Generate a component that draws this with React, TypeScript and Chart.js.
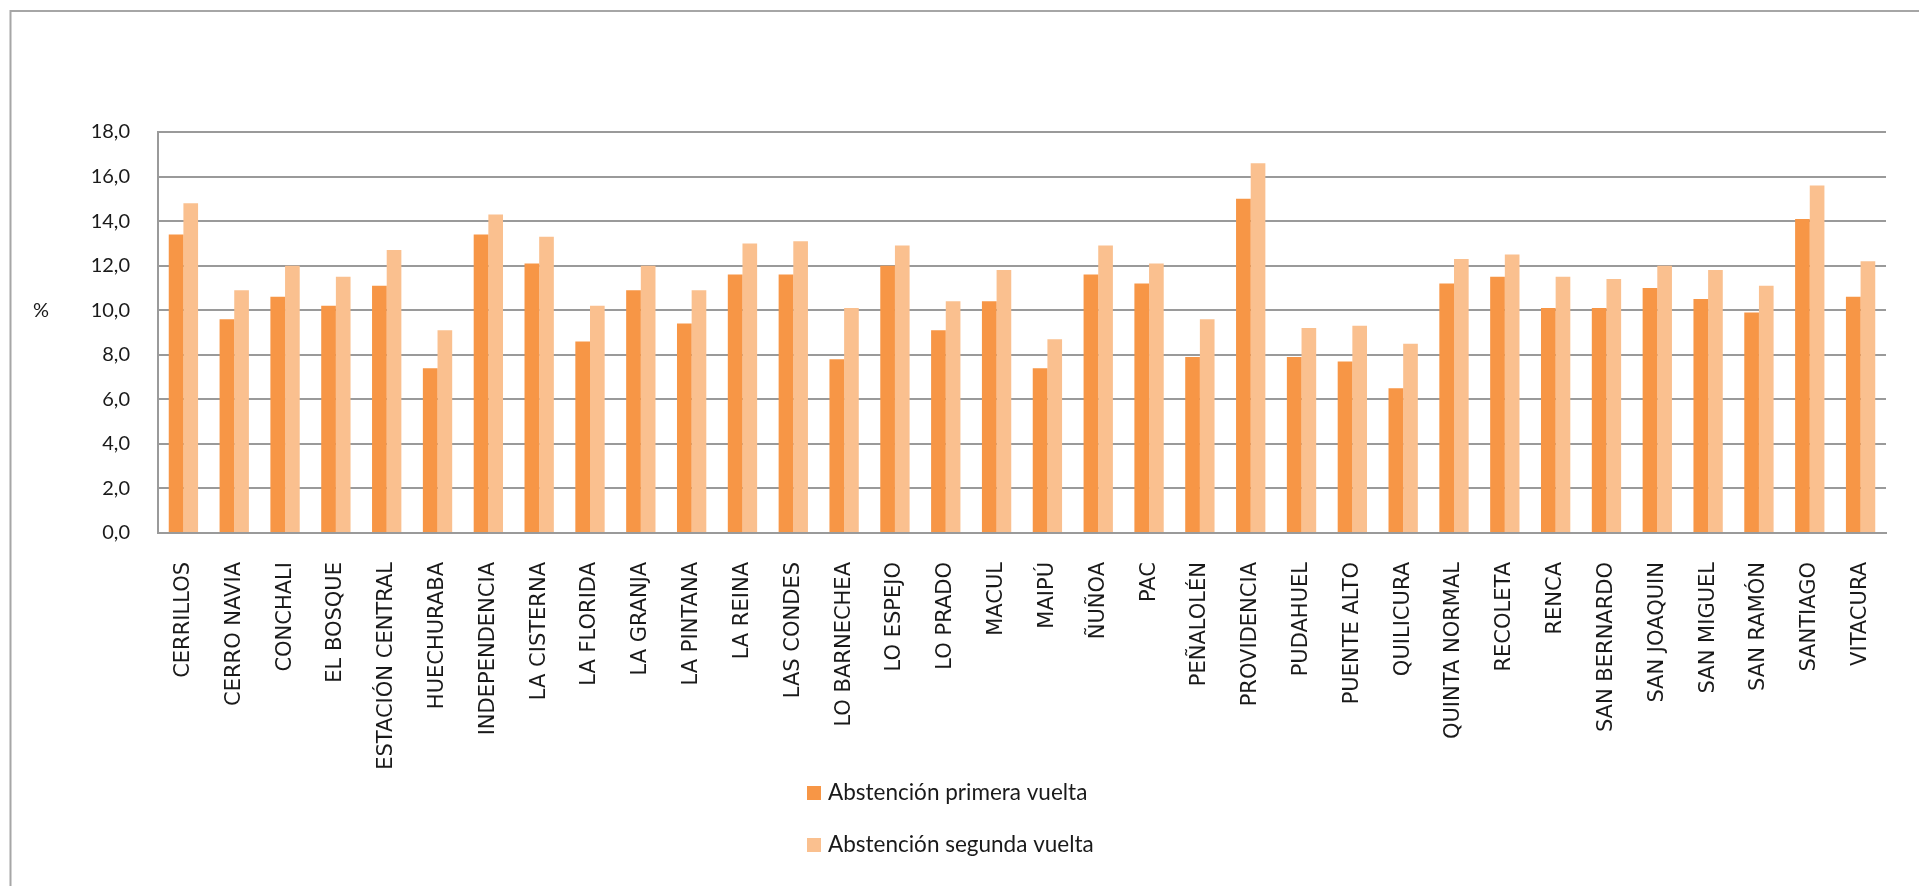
import React, { useEffect, useRef } from "react";
import { Chart, registerables } from "chart.js";

Chart.register(...registerables);

// Comunas of the Región Metropolitana
const comunas: string[] = [
  "CERRILLOS", "CERRO NAVIA", "CONCHALI", "EL BOSQUE", "ESTACIÓN CENTRAL",
  "HUECHURABA", "INDEPENDENCIA", "LA CISTERNA", "LA FLORIDA", "LA GRANJA",
  "LA PINTANA", "LA REINA", "LAS CONDES", "LO BARNECHEA", "LO ESPEJO",
  "LO PRADO", "MACUL", "MAIPÚ", "ÑUÑOA", "PAC", "PEÑALOLÉN", "PROVIDENCIA",
  "PUDAHUEL", "PUENTE ALTO", "QUILICURA", "QUINTA NORMAL", "RECOLETA",
  "RENCA", "SAN BERNARDO", "SAN JOAQUIN", "SAN MIGUEL", "SAN RAMÓN",
  "SANTIAGO", "VITACURA",
];

// Abstención (%) en primera vuelta
const primeraVuelta: number[] = [
  13.4, 9.6, 10.6, 10.2, 11.1, 7.4, 13.4, 12.1, 8.6, 10.9,
  9.4, 11.6, 11.6, 7.8, 12.0, 9.1, 10.4, 7.4, 11.6, 11.2,
  7.9, 15.0, 7.9, 7.7, 6.5, 11.2, 11.5, 10.1, 10.1, 11.0,
  10.5, 9.9, 14.1, 10.6,
];

// Abstención (%) en segunda vuelta
const segundaVuelta: number[] = [
  14.8, 10.9, 12.0, 11.5, 12.7, 9.1, 14.3, 13.3, 10.2, 12.0,
  10.9, 13.0, 13.1, 10.1, 12.9, 10.4, 11.8, 8.7, 12.9, 12.1,
  9.6, 16.6, 9.2, 9.3, 8.5, 12.3, 12.5, 11.5, 11.4, 12.0,
  11.8, 11.1, 15.6, 12.2,
];

const seriesNames: string[] = ["Abstención primera vuelta", "Abstención segunda vuelta"];
const seriesColors: string[] = ["#F79646", "#FAC08F"];
const axisUnit = "%";

const W = 1919;
const H = 886;
const TEXT_FONT = "Lato, 'Open Sans', sans-serif";

// Frame, unit label and stacked legend drawn around the plot
const decorations = {
  id: "decorations",
  beforeDraw(chart: Chart) {
    const ctx = chart.ctx;
    ctx.save();
    ctx.fillStyle = "#ffffff";
    ctx.fillRect(0, 0, chart.width, chart.height);
    ctx.strokeStyle = "#a6a6a6";
    ctx.lineWidth = 2;
    ctx.strokeRect(10.5, 11, chart.width + 40, chart.height + 40);
    ctx.restore();
  },
  afterDraw(chart: Chart) {
    const ctx = chart.ctx;
    const area = chart.chartArea;
    ctx.save();
    ctx.font = `20px ${TEXT_FONT}`;
    ctx.fillStyle = "#1a1a1a";
    ctx.textAlign = "center";
    ctx.textBaseline = "middle";
    ctx.fillText(axisUnit, 41, area.top + 179);

    const boxX = 807;
    const firstY = area.bottom + 253;
    const rowGap = 52;
    ctx.font = `22.5px ${TEXT_FONT}`;
    ctx.textAlign = "left";
    chart.data.datasets.forEach((ds, i) => {
      const cy = firstY + i * rowGap + 7;
      ctx.fillStyle = ds.backgroundColor as string;
      ctx.fillRect(boxX, cy - 7, 14, 14);
      ctx.fillStyle = "#1a1a1a";
      ctx.fillText(ds.label as string, boxX + 21, cy);
    });
    ctx.restore();
  },
};

export default function App() {
  const canvasRef = useRef<HTMLCanvasElement | null>(null);

  useEffect(() => {
    document.body.style.margin = "0";
    const canvas = canvasRef.current;
    if (!canvas) return;

    const chart = new Chart(canvas, {
      type: "bar",
      data: {
        labels: comunas,
        datasets: [
          {
            label: seriesNames[0],
            data: primeraVuelta,
            backgroundColor: seriesColors[0],
            borderWidth: 0,
          },
          {
            label: seriesNames[1],
            data: segundaVuelta,
            backgroundColor: seriesColors[1],
            borderWidth: 0,
          },
        ],
      },
      options: {
        responsive: false,
        animation: false,
        devicePixelRatio: 1,
        datasets: {
          bar: {
            categoryPercentage: 0.577,
            barPercentage: 1,
          },
        },
        layout: {
          padding: { left: 0, top: 132, right: 33, bottom: 0 },
        },
        plugins: {
          legend: { display: false },
          tooltip: { enabled: false },
          title: { display: false },
        },
        scales: {
          x: {
            grid: { display: false, drawTicks: false },
            border: { display: true, color: "#9a9a9a", width: 2 },
            ticks: {
              autoSkip: false,
              minRotation: 90,
              maxRotation: 90,
              padding: 29,
              color: "#1a1a1a",
              font: { family: "'DejaVu Sans', Verdana, sans-serif", size: 21 },
            },
            afterFit(scale: any) {
              scale.height = H - 533;
            },
          },
          y: {
            min: 0,
            max: 18,
            grid: { color: "#9a9a9a", lineWidth: 2, drawTicks: false },
            border: { display: true, color: "#9a9a9a", width: 2 },
            ticks: {
              stepSize: 2,
              padding: 28,
              color: "#1a1a1a",
              font: { family: TEXT_FONT, size: 20 },
              callback: (v: any) => Number(v).toFixed(1).replace(".", ","),
            },
            afterFit(scale: any) {
              scale.width = 158;
            },
          },
        },
      },
      plugins: [decorations],
    });

    return () => chart.destroy();
  }, []);

  return (
    <div style={{ position: "fixed", left: 0, top: 0, width: W, height: H, background: "#fff" }}>
      <canvas ref={canvasRef} width={W} height={H} style={{ width: W, height: H, display: "block" }} />
    </div>
  );
}
